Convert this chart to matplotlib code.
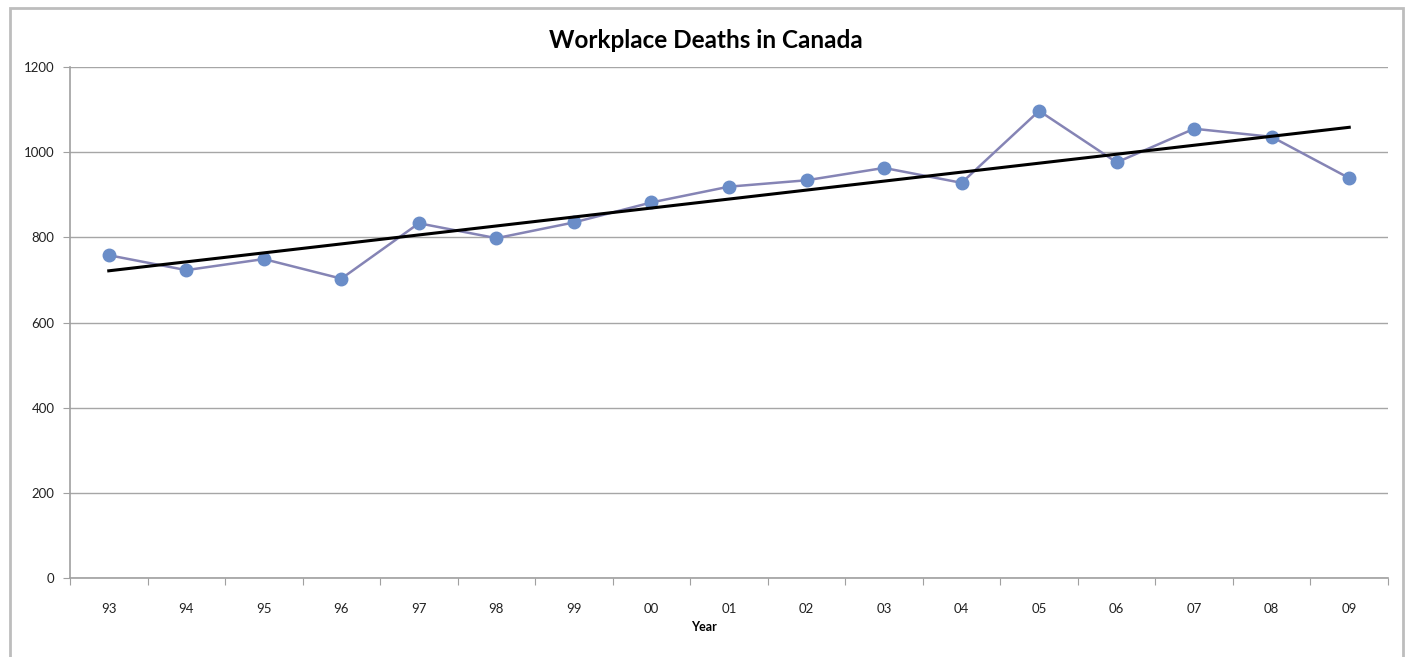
import numpy as np
import matplotlib.pyplot as plt
from matplotlib.patches import Rectangle

years = ['93', '94', '95', '96', '97', '98', '99', '00', '01',
         '02', '03', '04', '05', '06', '07', '08', '09']
deaths = [758, 723, 749, 703, 833, 798, 835, 882, 919,
          934, 963, 928, 1097, 976, 1055, 1036, 939]
yticks = [0, 200, 400, 600, 800, 1000, 1200]

plt.rcParams['font.family'] = ['Lato', 'DejaVu Sans']

fig = plt.figure(figsize=(14.06, 6.57), dpi=100)
ax = fig.add_axes([70/1406, 1-578/657, 1318/1406, 511/657])

x = np.arange(len(years))
ax.plot(x, deaths, color='#8584B5', lw=1.8, marker='o', markersize=9,
        markerfacecolor='#6A8DC8', markeredgecolor='#6A8DC8', zorder=3)

# linear trendline
slope, icpt = np.polyfit(x, deaths, 1)
ax.plot(x, slope*x + icpt, color='black', lw=2.2, zorder=4)

ax.set_xlim(-0.5, len(years)-0.5)
ax.set_ylim(0, 1200)
ax.set_yticks(yticks)
ax.set_yticklabels([str(v) for v in yticks], fontsize=9.5, color='#222222')
ax.grid(axis='y', color='#A6A6A6', lw=1)
ax.set_axisbelow(True)

# ticks between categories, labels in the middle
ax.set_xticks(np.arange(len(years)+1) - 0.5)
ax.set_xticklabels([])
ax.set_xticks(x, minor=True)
ax.set_xticklabels(years, minor=True, fontsize=9.5, color='#222222')
ax.tick_params(axis='x', which='major', length=5, color='#A0A0A0', direction='out')
ax.tick_params(axis='x', which='minor', length=0, pad=18)
ax.tick_params(axis='y', length=5, color='#A0A0A0', pad=6)

for s in ['top', 'right']:
    ax.spines[s].set_visible(False)
for s in ['left', 'bottom']:
    ax.spines[s].set_color('#A0A0A0')
    ax.spines[s].set_linewidth(1.2)

fig.text(704/1406, 1-627/657, 'Year', fontsize=9, fontweight='bold',
         ha='center', va='center')
fig.text(706/1406, 1-40/657, 'Workplace Deaths in Canada', fontsize=17.5,
         fontweight='bold', ha='center', va='center')

fig.patches.append(Rectangle((10/1406, -0.05), 1393/1406, 1.05-8/657,
                             transform=fig.transFigure, fill=False,
                             edgecolor='#BDBDBD', lw=2))

fig.savefig('out.png', dpi=100)
